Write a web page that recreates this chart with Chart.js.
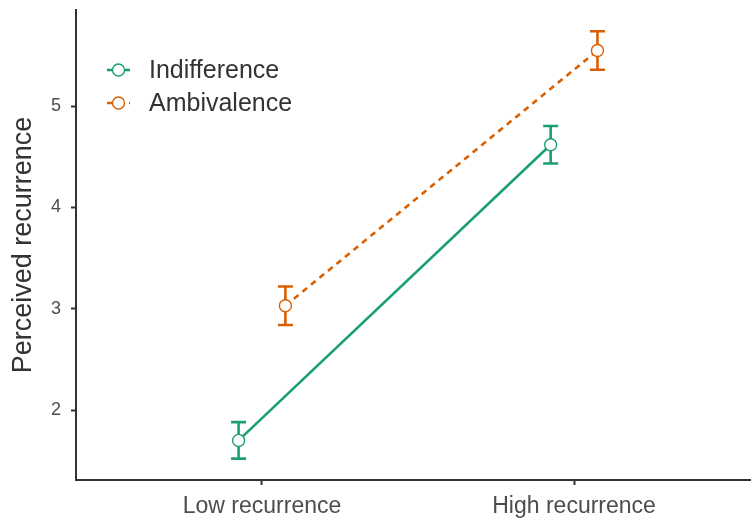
<!DOCTYPE html>
<html>
<head>
<meta charset="utf-8">
<script src="https://cdn.jsdelivr.net/npm/chart.js@4.4.1/dist/chart.umd.min.js"></script>
<style>
  html, body { margin: 0; padding: 0; background: #ffffff; }
  canvas { display: block; }
</style>
</head>
<body>
<canvas id="chart" width="751" height="520"></canvas>
<script>
// Condition labels on the x axis
const categories = ['Low recurrence', 'High recurrence'];
// Series names
const seriesNames = ['Indifference', 'Ambivalence'];
// Mean perceived recurrence per condition, with error-bar half widths
const indifferenceMean = [1.70, 4.62];
const indifferenceErr  = [0.18, 0.185];
const ambivalenceMean  = [3.03, 5.55];
const ambivalenceErr   = [0.19, 0.19];
// Y axis tick values
const yTicks = [2, 3, 4, 5];

const GREEN = '#1b9e77';
const ORANGE = '#d95f02';
const FONT = "'Liberation Sans', Arial, Helvetica, sans-serif";
const DODGE = 0.075; // horizontal offset so the two series sit side by side

function toPoints(means, offset) {
  return means.map((m, i) => ({ x: i + 1 + offset, y: m }));
}

// Vertical error bars with caps, drawn under the points
const errorBarPlugin = {
  id: 'errorBars',
  beforeDatasetsDraw(chart) {
    const ctx = chart.ctx;
    const ys = chart.scales.y;
    chart.data.datasets.forEach((ds, di) => {
      const meta = chart.getDatasetMeta(di);
      ctx.save();
      ctx.strokeStyle = ds.borderColor;
      ctx.lineWidth = 2.6;
      ctx.setLineDash([]);
      meta.data.forEach((pt, i) => {
        const m = ds.data[i].y;
        const e = ds.errors[i];
        const yTop = ys.getPixelForValue(m + e);
        const yBot = ys.getPixelForValue(m - e);
        const x = pt.x;
        const half = 7.5;
        ctx.beginPath();
        ctx.moveTo(x, yTop); ctx.lineTo(x, yBot);
        ctx.moveTo(x - half, yTop); ctx.lineTo(x + half, yTop);
        ctx.moveTo(x - half, yBot); ctx.lineTo(x + half, yBot);
        ctx.stroke();
      });
      ctx.restore();
    });
  }
};

// Legend drawn inside the plot area: line + open circle key, then the label
const insideLegendPlugin = {
  id: 'insideLegend',
  afterDraw(chart) {
    const ctx = chart.ctx;
    const rows = [70, 103];
    chart.data.datasets.forEach((ds, di) => {
      const y = rows[di];
      ctx.save();
      ctx.strokeStyle = ds.borderColor;
      ctx.lineWidth = 2.6;
      ctx.setLineDash(ds.borderDash || []);
      ctx.beginPath();
      ctx.moveTo(107, y);
      ctx.lineTo(130, y);
      ctx.stroke();
      ctx.setLineDash([]);
      ctx.beginPath();
      ctx.arc(118.5, y, 6, 0, Math.PI * 2);
      ctx.fillStyle = '#ffffff';
      ctx.fill();
      ctx.lineWidth = 1.4;
      ctx.stroke();
      ctx.fillStyle = '#333333';
      ctx.font = '25px ' + FONT;
      ctx.textAlign = 'left';
      ctx.textBaseline = 'middle';
      ctx.fillText(ds.label, 149, y + 1);
      ctx.restore();
    });
  }
};

new Chart(document.getElementById('chart'), {
  type: 'scatter',
  data: {
    datasets: [
      {
        label: seriesNames[0],
        data: toPoints(indifferenceMean, -DODGE),
        errors: indifferenceErr,
        showLine: true,
        borderColor: GREEN,
        borderWidth: 2.6,
        pointRadius: 6,
        pointBorderWidth: 1.4,
        pointBackgroundColor: '#ffffff',
        pointBorderColor: GREEN
      },
      {
        label: seriesNames[1],
        data: toPoints(ambivalenceMean, DODGE),
        errors: ambivalenceErr,
        showLine: true,
        borderColor: ORANGE,
        borderWidth: 2.6,
        borderDash: [6, 5],
        pointRadius: 6,
        pointBorderWidth: 1.4,
        pointBackgroundColor: '#ffffff',
        pointBorderColor: ORANGE
      }
    ]
  },
  options: {
    responsive: false,
    animation: false,
    devicePixelRatio: 1,
    layout: { autoPadding: false, padding: { top: 10, right: 0, bottom: 0, left: 0 } },
    plugins: {
      legend: { display: false },
      tooltip: { enabled: false }
    },
    scales: {
      x: {
        type: 'linear',
        min: 0.404,
        max: 2.567,
        afterFit(scale) {
          scale.height = 40;
          scale.paddingLeft = 0;
          scale.paddingRight = 0;
        },
        afterBuildTicks(scale) {
          scale.ticks = categories.map((c, i) => ({ value: i + 1 }));
        },
        grid: { drawOnChartArea: false, drawTicks: true, tickLength: 5, tickColor: '#333333', tickWidth: 2 },
        border: { display: true, color: '#333333', width: 2 },
        ticks: {
          color: '#4d4d4d',
          font: { family: FONT, size: 23 },
          padding: 8,
          maxRotation: 0,
          callback: (v) => categories[Math.round(v) - 1]
        }
      },
      y: {
        type: 'linear',
        min: 1.309,
        max: 5.95,
        afterFit(scale) {
          scale.width = 76;
          scale.paddingTop = 0;
          scale.paddingBottom = 0;
        },
        afterBuildTicks(scale) {
          scale.ticks = yTicks.map(v => ({ value: v }));
        },
        grid: { drawOnChartArea: false, drawTicks: true, tickLength: 5, tickColor: '#333333', tickWidth: 2 },
        border: { display: true, color: '#333333', width: 2 },
        ticks: {
          color: '#4d4d4d',
          font: { family: FONT, size: 18 },
          padding: 10,
          callback: (v) => String(v)
        },
        title: {
          display: true,
          text: 'Perceived recurrence',
          color: '#333333',
          font: { family: FONT, size: 27 },
          padding: { top: 7, bottom: 0 }
        }
      }
    }
  },
  plugins: [errorBarPlugin, insideLegendPlugin]
});
</script>
</body>
</html>
